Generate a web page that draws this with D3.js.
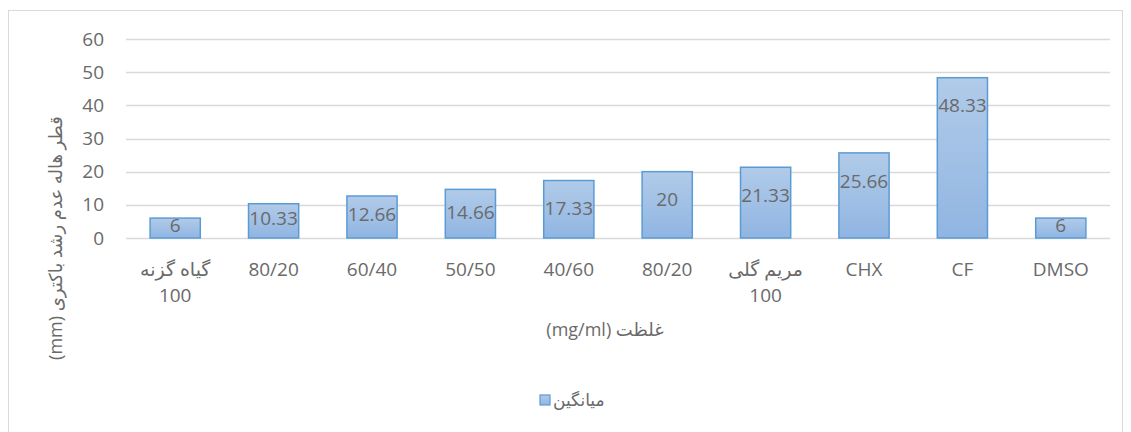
<!DOCTYPE html>
<html>
<head>
<meta charset="utf-8">
<script src="https://cdn.jsdelivr.net/npm/d3@7"></script>
<style>
  body { margin: 0; background: #fff; }
  text { font-family: "Open Sans", "DejaVu Sans", sans-serif; fill: #6a6a6a; }
</style>
</head>
<body>
<div id="chart"></div>
<script>
// data
var categories = ["گیاه گزنه|100", "80/20", "60/40", "50/50", "40/60", "80/20 ", "مریم گلی|100", "CHX", "CF", "DMSO"];
var values = [6, 10.33, 12.66, 14.66, 17.33, 20, 21.33, 25.66, 48.33, 6];
var yTicks = [0, 10, 20, 30, 40, 50, 60];
var seriesName = "میانگین";
var yTitle = "قطر هاله عدم رشد باکتری (mm)";
var xTitle = "غلظت (mg/ml)";

var width = 1131, height = 432;
var margin = {left: 126, right: 21, top: 39, bottom: 194};

var svg = d3.select("#chart").append("svg")
    .attr("width", width)
    .attr("height", height);

var defs = svg.append("defs");
var grad = defs.append("linearGradient")
    .attr("id", "barGrad")
    .attr("x1", 0).attr("y1", 0).attr("x2", 0).attr("y2", 1);
grad.append("stop").attr("offset", "0%").attr("stop-color", "#b1cbe9");
grad.append("stop").attr("offset", "100%").attr("stop-color", "#90b5e2");

// chart border
svg.append("rect")
    .attr("x", 8.5).attr("y", 10.5)
    .attr("width", 1114).attr("height", 430)
    .attr("fill", "none")
    .attr("stroke", "#d9d9d9");

var x = d3.scaleBand()
    .domain(categories)
    .range([margin.left, width - margin.right])
    .paddingInner(0.49)
    .paddingOuter(0.245);

var y = d3.scaleLinear()
    .domain([0, 60])
    .range([height - margin.bottom, margin.top]);

// gridlines
svg.append("g").selectAll("line")
    .data(yTicks)
    .enter().append("line")
    .attr("x1", margin.left)
    .attr("x2", width - margin.right)
    .attr("y1", function(d) { return Math.round(y(d)) + 0.5; })
    .attr("y2", function(d) { return Math.round(y(d)) + 0.5; })
    .attr("stroke", "#d9d9d9")
    .attr("stroke-width", 1.3);

// y axis labels
var yAxis = d3.axisLeft(y).tickValues(yTicks).tickSize(0).tickPadding(0);
var gy = svg.append("g")
    .attr("transform", "translate(104,0)")
    .call(yAxis);
gy.select(".domain").remove();
gy.selectAll("text")
    .style("font-size", "19px")
    .style("font-family", null)
    .attr("fill", "#6a6a6a");
gy.attr("font-family", null);

// bars
svg.append("g").selectAll("rect")
    .data(values)
    .enter().append("rect")
    .attr("x", function(d, i) { return x(categories[i]); })
    .attr("y", function(d) { return y(d); })
    .attr("width", x.bandwidth())
    .attr("height", function(d) { return y(0) - y(d); })
    .attr("fill", "url(#barGrad)")
    .attr("stroke", "#5b9bd5")
    .attr("stroke-width", 1.5);

// data labels
svg.append("g").selectAll("text")
    .data(values)
    .enter().append("text")
    .attr("x", function(d, i) { return x(categories[i]) + x.bandwidth() / 2; })
    .attr("y", function(d) {
        var top = y(d), mid = (y(d) + y(0)) / 2;
        return Math.min(top + 28, Math.max(212, mid - 3));
    })
    .attr("dy", "0.35em")
    .attr("text-anchor", "middle")
    .style("font-size", "19px")
    .text(function(d) { return d; });

// x labels
var xl = svg.append("g").selectAll("text")
    .data(categories)
    .enter().append("text")
    .attr("x", function(d) { return x(d) + x.bandwidth() / 2; })
    .attr("y", 276)
    .attr("text-anchor", "middle")
    .style("font-size", "19px");
xl.each(function(d) {
    var parts = d.trim().split("|");
    var t = d3.select(this);
    parts.forEach(function(p, k) {
        t.append("tspan")
            .attr("x", t.attr("x"))
            .attr("dy", k == 0 ? 0 : 26)
            .text(p);
    });
});

// axis titles
svg.append("text")
    .attr("x", 605)
    .attr("y", 336)
    .attr("direction", "rtl")
    .attr("text-anchor", "middle")
    .style("font-size", "18px")
    .text(xTitle);

svg.append("text")
    .attr("transform", "translate(62,238) rotate(-90)")
    .attr("direction", "rtl")
    .attr("text-anchor", "middle")
    .style("font-size", "18px")
    .text(yTitle);

// legend
var lg = svg.append("g").attr("transform", "translate(540,395)");
lg.append("rect")
    .attr("width", 10).attr("height", 10)
    .attr("fill", "url(#barGrad)")
    .attr("stroke", "#5b9bd5")
    .attr("stroke-width", 1.2);
lg.append("text")
    .attr("x", 13)
    .attr("y", 5)
    .attr("dy", "0.35em")
    .style("font-size", "17px")
    .text(seriesName);
</script>
</body>
</html>
